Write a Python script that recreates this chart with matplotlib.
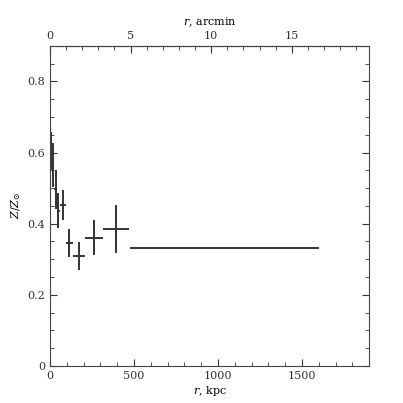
import matplotlib.pyplot as plt
from matplotlib.ticker import MultipleLocator

plt.rcParams['font.family'] = ['DejaVu Serif']
plt.rcParams['mathtext.fontset'] = 'dejavuserif'

# radial bins (kpc) and abundance
r_kpc = [6, 19, 33, 49, 77, 116, 174, 262, 394, 1037]
r_err = [6, 7, 7, 9, 16, 23, 35, 53, 79, 563]
z = [0.605, 0.565, 0.497, 0.437, 0.452, 0.346, 0.309, 0.361, 0.386, 0.331]
z_err = [0.053, 0.063, 0.055, 0.048, 0.042, 0.040, 0.040, 0.050, 0.068, 0.0]

kpc_per_arcmin = 96.0

fig = plt.figure(figsize=(4.03, 4.03), dpi=100)
ax = fig.add_axes([0.124, 0.092, 0.792, 0.794])

ax.errorbar(r_kpc, z, xerr=r_err, yerr=z_err, fmt='none',
            ecolor='#333333', elinewidth=1.4, capsize=0)

ax.set_xlim(0, 1900)
ax.set_ylim(0, 0.9)
ax.xaxis.set_major_locator(MultipleLocator(500))
ax.xaxis.set_minor_locator(MultipleLocator(100))
ax.yaxis.set_major_locator(MultipleLocator(0.2))
ax.yaxis.set_minor_locator(MultipleLocator(0.05))
ax.yaxis.set_major_formatter(plt.FuncFormatter(lambda v, p: '0' if v == 0 else f'{v:.1f}'))
ax.tick_params(which='both', direction='in', right=True, labelsize=8, colors='#333333')
ax.tick_params(which='major', length=5)
ax.tick_params(which='minor', length=3)
for s in ax.spines.values():
    s.set_color('#444444')

ax.set_xlabel(r'$r$, kpc', fontsize=8, labelpad=2)
ax.set_ylabel(r'$Z/Z_{\odot}$', fontsize=8)
ax.yaxis.set_label_coords(-0.085, 0.5)

sec = ax.secondary_xaxis('top', functions=(lambda x: x / kpc_per_arcmin,
                                            lambda a: a * kpc_per_arcmin))
sec.xaxis.set_major_locator(MultipleLocator(5))
sec.xaxis.set_minor_locator(MultipleLocator(1))
sec.tick_params(which='both', direction='in', labelsize=8, colors='#333333')
sec.tick_params(which='major', length=5)
sec.tick_params(which='minor', length=3)
sec.set_xlabel(r'$r$, arcmin', fontsize=8, labelpad=4)

fig.savefig('out.png', dpi=100)
